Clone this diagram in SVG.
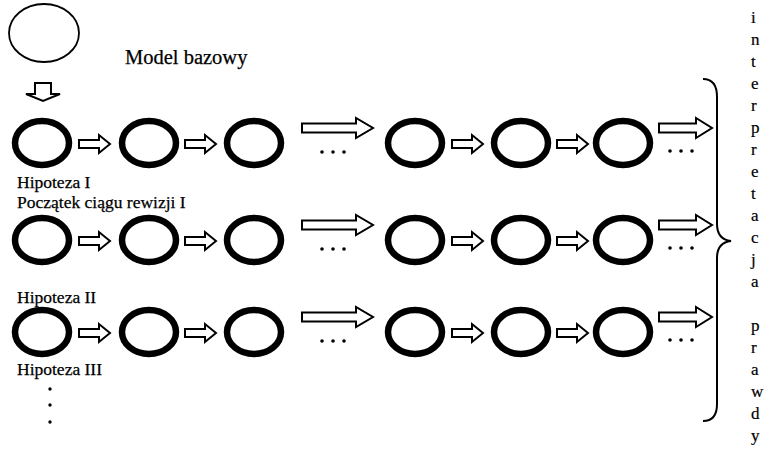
<svg xmlns="http://www.w3.org/2000/svg" width="778" height="459" viewBox="0 0 778 459">
  <style>
    .lbl { font-family: "Liberation Serif", "Times New Roman", serif; font-size: 17.5px; fill: #000; stroke: #000; stroke-width: 0.25; }
    .title { font-family: "Liberation Serif", "Times New Roman", serif; font-size: 20.5px; fill: #000; stroke: #000; stroke-width: 0.25; }
    .vert { font-family: "Liberation Serif", "Times New Roman", serif; font-size: 17px; fill: #000; stroke: #000; stroke-width: 0.2; }
    .model { fill: none; stroke: #000; stroke-width: 1.8; }
    .hyp { fill: none; stroke: #000; stroke-width: 6.5; }
    .blk { fill: #fff; stroke: #000; stroke-width: 2; stroke-linejoin: miter; }
    .dot { fill: #000; }
    .brace { fill: none; stroke: #000; stroke-width: 2; }
  </style>
  <defs>
    <!-- short block arrow between two revisions -->
    <path id="arrS" class="blk" d="M0,-4 L20,-4 L20,-9 L31,0 L20,9 L20,4 L0,4 Z"/>
    <!-- long block arrow standing for skipped revisions -->
    <path id="arrL" class="blk" d="M0,-4.5 L54,-4.5 L54,-10 L71,0 L54,10 L54,4.5 L0,4.5 Z"/>
    <!-- long block arrow at the end of each sequence -->
    <path id="arrE" class="blk" d="M0,-4.5 L37,-4.5 L37,-10 L53,0 L37,10 L37,4.5 L0,4.5 Z"/>
    <g id="ellip">
      <circle cx="0" cy="0" r="1.8" class="dot"/>
      <circle cx="11" cy="0" r="1.8" class="dot"/>
      <circle cx="22" cy="0" r="1.8" class="dot"/>
    </g>
  </defs>

  <!-- base model -->
  <g id="base">
    <ellipse cx="44" cy="33" rx="35" ry="29" class="model"/>
    <text x="125" y="64" class="title">Model bazowy</text>
  </g>

  <!-- revision sequence I -->
  <g id="row1">
    <ellipse cx="42" cy="143" rx="27" ry="22" class="hyp"/>
    <ellipse cx="149" cy="143" rx="27" ry="22" class="hyp"/>
    <ellipse cx="254" cy="143" rx="27" ry="22" class="hyp"/>
    <ellipse cx="415" cy="143" rx="27" ry="22" class="hyp"/>
    <ellipse cx="521" cy="143" rx="27" ry="22" class="hyp"/>
    <ellipse cx="623" cy="143" rx="27" ry="22" class="hyp"/>
    <text x="17" y="188" class="lbl">Hipoteza I</text>
    <text x="17" y="208" class="lbl">Początek ciągu rewizji I</text>
  </g>

  <!-- revision sequence II -->
  <g id="row2">
    <ellipse cx="42" cy="240" rx="27" ry="22" class="hyp"/>
    <ellipse cx="149" cy="240" rx="27" ry="22" class="hyp"/>
    <ellipse cx="254" cy="240" rx="27" ry="22" class="hyp"/>
    <ellipse cx="415" cy="240" rx="27" ry="22" class="hyp"/>
    <ellipse cx="521" cy="240" rx="27" ry="22" class="hyp"/>
    <ellipse cx="623" cy="240" rx="27" ry="22" class="hyp"/>
    <text x="17" y="303" class="lbl">Hipoteza II</text>
  </g>

  <!-- revision sequence III -->
  <g id="row3">
    <ellipse cx="42" cy="332" rx="27" ry="22" class="hyp"/>
    <ellipse cx="149" cy="332" rx="27" ry="22" class="hyp"/>
    <ellipse cx="254" cy="332" rx="27" ry="22" class="hyp"/>
    <ellipse cx="415" cy="332" rx="27" ry="22" class="hyp"/>
    <ellipse cx="521" cy="332" rx="27" ry="22" class="hyp"/>
    <ellipse cx="623" cy="332" rx="27" ry="22" class="hyp"/>
    <text x="17" y="375" class="lbl">Hipoteza III</text>
  </g>

  <!-- further hypotheses -->
  <g id="more">
    <circle cx="50" cy="389" r="1.7" class="dot"/>
    <circle cx="50" cy="405" r="1.7" class="dot"/>
    <circle cx="50" cy="422" r="1.7" class="dot"/>
  </g>

  <!-- connectors -->
  <g id="connectors">
    <path class="blk" d="M35,83 L51,83 L51,94 L60,94 L43,101 L26,94 L35,94 Z"/>

    <use href="#arrS" x="79" y="144"/>
    <use href="#arrS" x="185" y="144"/>
    <use href="#arrL" x="302" y="128"/>
    <use href="#ellip" x="322" y="152"/>
    <use href="#arrS" x="452" y="144"/>
    <use href="#arrS" x="557" y="144"/>
    <use href="#arrE" x="659" y="128"/>
    <use href="#ellip" x="670" y="151"/>

    <use href="#arrS" x="79" y="241"/>
    <use href="#arrS" x="185" y="241"/>
    <use href="#arrL" x="302" y="225"/>
    <use href="#ellip" x="322" y="249"/>
    <use href="#arrS" x="452" y="241"/>
    <use href="#arrS" x="557" y="241"/>
    <use href="#arrE" x="659" y="225"/>
    <use href="#ellip" x="670" y="248"/>

    <use href="#arrS" x="79" y="333"/>
    <use href="#arrS" x="185" y="333"/>
    <use href="#arrL" x="302" y="317"/>
    <use href="#ellip" x="322" y="341"/>
    <use href="#arrS" x="452" y="333"/>
    <use href="#arrS" x="557" y="333"/>
    <use href="#arrE" x="659" y="317"/>
    <use href="#ellip" x="670" y="340"/>
  </g>

  <!-- closing brace and its caption -->
  <g id="interpretation">
    <path class="brace" d="M703,79 C712,79 717,85 717,97 L717,224 C717,235 722,240 731,241 C722,242 717,247 717,258 L717,404 C717,415 712,421 703,421"/>
    <text class="vert">
      <tspan x="751" y="23">i</tspan>
      <tspan x="751" y="45">n</tspan>
      <tspan x="751" y="67">t</tspan>
      <tspan x="751" y="89">e</tspan>
      <tspan x="751" y="111">r</tspan>
      <tspan x="751" y="133">p</tspan>
      <tspan x="751" y="155">r</tspan>
      <tspan x="751" y="177">e</tspan>
      <tspan x="751" y="199">t</tspan>
      <tspan x="751" y="221">a</tspan>
      <tspan x="751" y="243">c</tspan>
      <tspan x="751" y="265">j</tspan>
      <tspan x="751" y="287">a</tspan>
      <tspan x="751" y="331">p</tspan>
      <tspan x="751" y="353">r</tspan>
      <tspan x="751" y="375">a</tspan>
      <tspan x="751" y="397">w</tspan>
      <tspan x="751" y="419">d</tspan>
      <tspan x="751" y="441">y</tspan>
    </text>
  </g>
</svg>
